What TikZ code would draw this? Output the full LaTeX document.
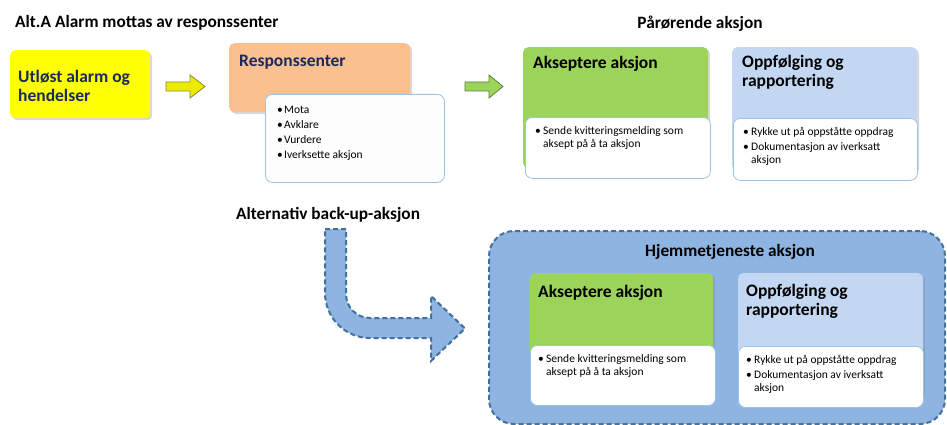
\documentclass[tikz,border=0pt]{standalone}
\usepackage{fontspec}
\setmainfont{Carlito}
\usetikzlibrary{shadows}
\definecolor{navy}{HTML}{1B2A5E}
\definecolor{alarmyellow}{HTML}{FFFF00}
\definecolor{peach}{HTML}{FAC090}
\definecolor{leaf}{HTML}{9CD35A}
\definecolor{sky}{HTML}{C3D7F2}
\definecolor{subline}{HTML}{9DC3E6}
\definecolor{backup}{HTML}{8EB4E2}
\definecolor{backupline}{HTML}{41719C}
\begin{document}
\begin{tikzpicture}[x=1pt,y=-1pt,
  card/.style={rounded corners=5pt, anchor=north west, inner sep=0pt,
    drop shadow={opacity=0.3, shadow xshift=2pt, shadow yshift=-2pt}},
  sub/.style={rounded corners=7pt, fill=white, draw=subline, line width=0.8pt,
    anchor=north west, inner sep=0pt},
  % multi-line texts are placed by the baseline of their last line
  head/.style={anchor=base west, inner sep=0pt, align=left,
    font=\fontsize{17.5}{19}\selectfont\bfseries},
  title/.style={anchor=base, inner sep=0pt,
    font=\fontsize{17.3}{20}\selectfont\bfseries},
  items/.style={anchor=base west, inner sep=0pt, align=left,
    font=\fontsize{11.5}{13}\selectfont},
  blockarrow/.style={line width=0.8pt, line join=miter},
  dashline/.style={draw=backupline, line width=2pt, dash pattern=on 5pt off 3pt}
]
\useasboundingbox (0,0) rectangle (947,425);

% ---------- headings ----------
\node[title, anchor=base west] (tA) at (15,28) {Alt.A Alarm mottas av responssenter};
\node[title] (tP) at (700,29) {Pårørende aksjon};
\node[title, anchor=base west] (tB) at (236,219) {Alternativ back-up-aksjon};

% ---------- alarm and response centre ----------
\node[card, fill=alarmyellow, minimum width=140pt, minimum height=68pt] (alarm) at (10,50) {};
\node[head, text=navy] (alarmtxt) at (18,102) {Utløst alarm og\\hendelser};

\path[blockarrow, fill=alarmyellow!92!black, draw=olive!70!gray]
  (166,82) -- (190,82) -- (190,75) -- (205,86.5) -- (190,98) -- (190,91) -- (166,91) -- cycle;

\node[card, fill=peach, minimum width=181pt, minimum height=69pt] (resp) at (229,43) {};
\node[head, text=navy] (resptxt) at (239,67) {Responssenter};
\node[sub, minimum width=179pt, minimum height=88pt, fill=white!96!sky] (resplist) at (265,94) {};
\node[items, font=\fontsize{11.5}{15}\selectfont] (respitems) at (277,158)
  {\makebox[7pt][l]{\textbullet}Mota\\\makebox[7pt][l]{\textbullet}Avklare\\
   \makebox[7pt][l]{\textbullet}Vurdere\\\makebox[7pt][l]{\textbullet}Iverksette aksjon};

\path[blockarrow, fill=leaf, draw=leaf!60!black]
  (465,82) -- (489,82) -- (489,75) -- (503,86.5) -- (489,98) -- (489,91) -- (465,91) -- cycle;

% ---------- relatives' action ----------
\node[card, fill=leaf, minimum width=185pt, minimum height=121pt] (accP) at (523,47) {};
\node[head] (accPtxt) at (533,69) {Akseptere aksjon};
\node[sub, minimum width=185pt, minimum height=61pt] (accPsub) at (525,117) {};
\node[items] (accPitems) at (535,147)
  {\makebox[8pt][l]{\textbullet}Sende kvitteringsmelding som\\\hspace*{8pt}aksept på å ta aksjon};

\node[card, fill=sky, minimum width=185pt, minimum height=124pt] (folP) at (732,47) {};
\node[head] (folPtxt) at (742,87) {Oppfølging og\\rapportering};
\node[sub, minimum width=184pt, minimum height=62pt] (folPsub) at (733,118) {};
\node[items] (folPitems) at (743,163)
  {\makebox[8pt][l]{\textbullet}Rykke ut på oppståtte oppdrag\\[1.5pt]
   \makebox[8pt][l]{\textbullet}Dokumentasjon av iverksatt\\\hspace*{8pt}aksjon};

% ---------- back-up route ----------
\path[fill=backup, dashline]
  (325,229) -- (346,229) -- (346,294)
  .. controls (346,307.3) and (356.7,318) .. (370,318)
  -- (431,318) -- (431,296) -- (465,328.5) -- (431,361) -- (431,338) -- (370,338)
  .. controls (345.2,338) and (325,317.8) .. (325,293) -- cycle;

\node[fill=backup, dashline, rounded corners=25pt, anchor=north west, inner sep=0pt,
  minimum width=456pt, minimum height=193pt] (home) at (488,230) {};
\node[title] (tH) at (730,256) {Hjemmetjeneste aksjon};

\node[card, fill=leaf, minimum width=183pt, minimum height=122pt] (accH) at (530,273) {};
\node[head] (accHtxt) at (538,297) {Akseptere aksjon};
\node[sub, minimum width=185pt, minimum height=60pt] (accHsub) at (530,345) {};
\node[items] (accHitems) at (538,375)
  {\makebox[8pt][l]{\textbullet}Sende kvitteringsmelding som\\\hspace*{8pt}aksept på å ta aksjon};

\node[card, fill=sky, minimum width=185pt, minimum height=125pt] (folH) at (738,273) {};
\node[head] (folHtxt) at (746,315) {Oppfølging og\\rapportering};
\node[sub, minimum width=185pt, minimum height=61pt] (folHsub) at (738,346) {};
\node[items] (folHitems) at (746,391)
  {\makebox[8pt][l]{\textbullet}Rykke ut på oppståtte oppdrag\\[1.5pt]
   \makebox[8pt][l]{\textbullet}Dokumentasjon av iverksatt\\\hspace*{8pt}aksjon};
\end{tikzpicture}
\end{document}
